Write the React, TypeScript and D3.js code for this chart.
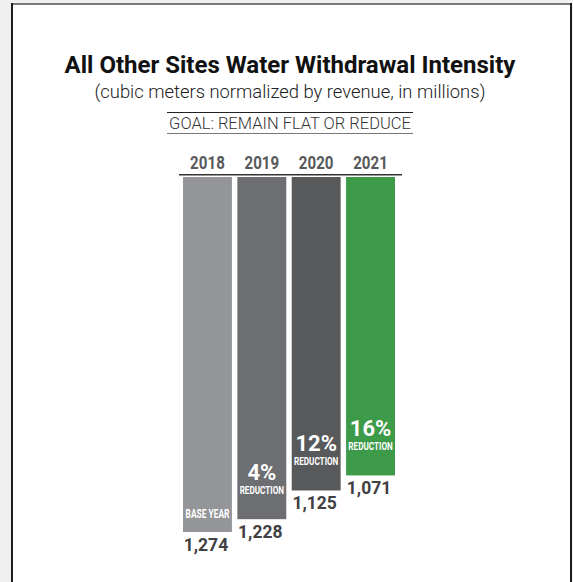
import React from "react";
import * as d3 from "d3";

const years = ["2018", "2019", "2020", "2021"];
const values = [1274, 1228, 1125, 1071];
const valueLabels = ["1,274", "1,228", "1,125", "1,071"];
const reductions = ["", "4%", "12%", "16%"];
const barColors = ["#939598", "#6d6e71", "#58595b", "#3d9a49"];

const W = 573;
const H = 582;

export default function App() {
  const x = d3.scaleBand<string>().domain(years).range([183, 395]).paddingInner(0.1).paddingOuter(0);
  const top = 177;
  const h = d3.scaleLinear().domain([0, d3.max(values) as number]).range([0, 355]);
  const cx = 290;
  const font = "Roboto, 'Noto Sans', sans-serif";

  return (
    <svg width={W} height={H} style={{ position: "absolute", left: 0, top: 0 }} fontFamily={font}>
      <rect x={0} y={0} width={W} height={H} fill="#f0f0f0" />
      <rect x={11} y={3} width={561} height={H} fill="#ffffff" />
      <line x1={11} x2={572} y1={4} y2={4} stroke="#7a7a7a" strokeWidth={2} />
      <line x1={12} x2={12} y1={3} y2={H} stroke="#1e1e1e" strokeWidth={2} />
      <line x1={571} x2={571} y1={3} y2={H} stroke="#1e1e1e" strokeWidth={2} />

      <text x={cx} y={73} textAnchor="middle" fontSize={24} fontWeight={700} fill="#111">
        All Other Sites Water Withdrawal Intensity
      </text>
      <text x={cx} y={98} textAnchor="middle" fontSize={18.4} fontWeight={300} fill="#222">
        (cubic meters normalized by revenue, in millions)
      </text>
      <line x1={167} x2={413} y1={112.5} y2={112.5} stroke="#222" strokeWidth={1} />
      <text x={cx} y={129} textAnchor="middle" fontSize={16.5} fontWeight={300} fill="#333">
        GOAL: REMAIN FLAT OR REDUCE
      </text>
      <line x1={167} x2={413} y1={133.5} y2={133.5} stroke="#777" strokeWidth={1} />

      {years.map((yr) => {
        const c = (x(yr) as number) + x.bandwidth() / 2;
        return (
          <text key={yr} transform={`translate(${c},169) scale(0.84,1)`} textAnchor="middle" fontSize={18} fontWeight={700} fill="#58595b">
            {yr}
          </text>
        );
      })}
      <line x1={179} x2={402} y1={174.7} y2={174.7} stroke="#333" strokeWidth={1.5} />

      {years.map((yr, i) => {
        const bx = x(yr) as number;
        const bw = x.bandwidth();
        const c = bx + bw / 2;
        const bottom = top + h(values[i]);
        return (
          <g key={"b" + yr}>
            <rect x={bx} y={top} width={bw} height={h(values[i])} fill={barColors[i]} />
            {i === 0 ? (
              <text transform={`translate(${c},${bottom - 14}) scale(0.7,1)`} textAnchor="middle" fontSize={12} fontWeight={700} fill="#fff">
                BASE YEAR
              </text>
            ) : (
              <g>
                <text x={c} y={bottom - 39} textAnchor="middle" fontSize={22} fontWeight={700} fill="#fff">
                  {reductions[i]}
                </text>
                <text transform={`translate(${c},${bottom - 25}) scale(0.72,1)`} textAnchor="middle" fontSize={11.3} fontWeight={700} fill="#fff">
                  REDUCTION
                </text>
              </g>
            )}
            <text x={c - 1.5} y={bottom + 19} textAnchor="middle" fontSize={17.5} fontWeight={700} fill="#414042">
              {valueLabels[i]}
            </text>
          </g>
        );
      })}
    </svg>
  );
}
